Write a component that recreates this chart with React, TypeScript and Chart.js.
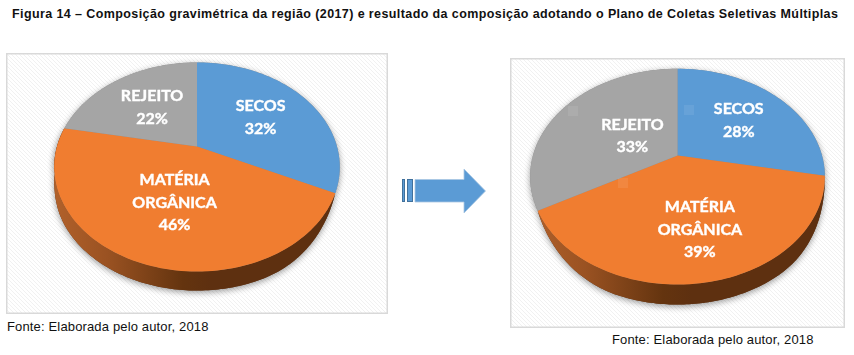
import React, { useEffect, useRef } from "react";
import { Chart, registerables, ArcElement } from "chart.js";

const categories = ["SECOS", "MATÉRIA\nORGÂNICA", "REJEITO"];
const valuesBefore = [32, 46, 22];
const valuesAfter = [28, 39, 33];
const sliceColors = ["#5b9bd5", "#f07d30", "#a5a5a5"];
const labelReachBefore = [0.57, 0.53, 0.545];
const labelReachAfter = [0.57, 0.635, 0.385];
const labelNudgeBefore = [0, 3, 0];
const labelNudgeAfter = [2, 6, 1];
const titleText =
  "Figura 14 – Composição gravimétrica da região (2017) e resultado da composição adotando o Plano de Coletas Seletivas Múltiplas";
const sourceText = "Fonte: Elaborada pelo autor, 2018";

const TILT = 0.718;
const PERSPECTIVE = 0.196;

function project(x: number, y: number, r: number, angle: number, reach = 1) {
  const u = Math.cos(angle) * reach;
  const v = Math.sin(angle) * reach;
  const w = 1 - PERSPECTIVE * v;
  return { x: x + (r * u) / w, y: y + (r * TILT * v) / w };
}

class ProjectedArc extends ArcElement {
  static id = "projectedArc";
  static defaults = { ...ArcElement.defaults };
  draw(ctx: CanvasRenderingContext2D) {
    const { x, y, startAngle, endAngle, outerRadius } = this as any;
    const steps = Math.max(8, Math.ceil((endAngle - startAngle) / 0.03));
    ctx.save();
    ctx.beginPath();
    ctx.moveTo(x, y);
    for (let i = 0; i <= steps; i++) {
      const p = project(x, y, outerRadius, startAngle + ((endAngle - startAngle) * i) / steps);
      ctx.lineTo(p.x, p.y);
    }
    ctx.closePath();
    ctx.fillStyle = (this as any).options.backgroundColor;
    ctx.fill();
    ctx.restore();
  }
}

const hatchPlugin = {
  id: "hatchPanel",
  beforeDraw(chart: any) {
    const { ctx, width, height } = chart;
    const tile = document.createElement("canvas");
    tile.width = 4;
    tile.height = 4;
    const t = tile.getContext("2d")!;
    t.fillStyle = "#ffffff";
    t.fillRect(0, 0, 4, 4);
    t.strokeStyle = "#f1f1f1";
    t.lineWidth = 1;
    for (const o of [-4, 0, 4]) {
      t.beginPath();
      t.moveTo(o, 0);
      t.lineTo(o + 4, 4);
      t.stroke();
    }
    ctx.save();
    ctx.fillStyle = ctx.createPattern(tile, "repeat")!;
    ctx.fillRect(0, 0, width, height);
    ctx.strokeStyle = "#d9d9d9";
    ctx.lineWidth = 1.5;
    ctx.strokeRect(0.75, 0.75, width - 1.5, height - 1.5);
    ctx.restore();
  },
};

const sidePlugin = {
  id: "pieSide",
  beforeDatasetsDraw(chart: any, _args: any, opts: any) {
    const arcs = chart.getDatasetMeta(0).data as any[];
    const { ctx } = chart;
    const front = Math.PI / 2;
    const arc = arcs.find((a) => a.startAngle <= front && a.endAngle >= front);
    if (!arc) return;
    const { x, y, outerRadius: r, startAngle: a0, endAngle: a1 } = arc;
    const outer: { x: number; y: number }[] = [];
    const lower: { x: number; y: number }[] = [];
    const n = 160;
    for (let i = 0; i <= n; i++) {
      const a = a0 + ((a1 - a0) * i) / n;
      const p = project(x, y, r, a);
      const edge = Math.min(a - a0, a1 - a);
      const s = Math.min(1, edge / opts.taper);
      const depth = opts.depth * s * (2 - s);
      outer.push(p);
      lower.push({ x: p.x, y: p.y + depth });
    }
    const sidePath = () => {
      ctx.beginPath();
      outer.forEach((p, i) => (i ? ctx.lineTo(p.x, p.y) : ctx.moveTo(p.x, p.y)));
      for (let i = lower.length - 1; i >= 0; i--) ctx.lineTo(lower[i].x, lower[i].y);
      ctx.closePath();
    };
    const topPath = () => {
      ctx.beginPath();
      for (let i = 0; i <= 240; i++) {
        const p = project(x, y, r, (i / 240) * Math.PI * 2);
        i ? ctx.lineTo(p.x, p.y) : ctx.moveTo(p.x, p.y);
      }
      ctx.closePath();
    };
    ctx.save();
    ctx.shadowColor = "rgba(0,0,0,0.4)";
    ctx.shadowBlur = 6;
    ctx.shadowOffsetX = 0;
    ctx.shadowOffsetY = 2;
    ctx.fillStyle = "#8a8a8a";
    topPath();
    ctx.fill();
    ctx.fillStyle = "#5e3010";
    sidePath();
    ctx.fill();
    ctx.restore();
    const g = ctx.createLinearGradient(x - r, 0, x + r, 0);
    g.addColorStop(0, "#b0602a");
    g.addColorStop(0.18, "#9a5222");
    g.addColorStop(0.45, "#64340f");
    g.addColorStop(0.55, "#5e3010");
    g.addColorStop(1, "#5e3010");
    ctx.fillStyle = g;
    sidePath();
    ctx.fill();
  },
};

const labelPlugin = {
  id: "pieLabels",
  afterDatasetsDraw(chart: any, _args: any, opts: any) {
    const { ctx } = chart;
    const arcs = chart.getDatasetMeta(0).data as any[];
    const values = chart.data.datasets[0].data as number[];
    const lineHeight = 22.5;
    ctx.save();
    ctx.fillStyle = "#ffffff";
    ctx.strokeStyle = "#ffffff";
    ctx.lineWidth = 0.4;
    ctx.font = 'bold 16px Lato, "Open Sans", sans-serif';
    ctx.textAlign = "center";
    ctx.textBaseline = "middle";
    arcs.forEach((arc, i) => {
      const mid = (arc.startAngle + arc.endAngle) / 2;
      const p = project(arc.x, arc.y, arc.outerRadius, mid, opts.reach[i]);
      const lines = [...String(chart.data.labels[i]).split("\n"), `${values[i]}%`];
      lines.forEach((line, k) => {
        const ty = p.y + (k - (lines.length - 1) / 2) * lineHeight;
        ctx.fillText(line, p.x + opts.nudge[i], ty);
        ctx.strokeText(line, p.x + opts.nudge[i], ty);
      });
    });
    ctx.restore();
  },
};

Chart.register(...registerables, ProjectedArc);
(Chart.defaults as any).datasets.pie.dataElementType = "projectedArc";

function Pie(props: {
  values: number[];
  reach: number[];
  nudge: number[];
  left: number;
  top: number;
  width: number;
  height: number;
  radius: number;
  bottomPad: number;
  depth: number;
}) {
  const ref = useRef<HTMLCanvasElement>(null);
  useEffect(() => {
    const chart = new Chart(ref.current!, {
      type: "pie",
      data: {
        labels: categories,
        datasets: [
          {
            data: props.values,
            backgroundColor: sliceColors,
            borderWidth: 0,
            radius: props.radius,
          },
        ],
      },
      options: {
        animation: false,
        responsive: false,
        events: [],
        layout: { padding: { bottom: props.bottomPad } },
        plugins: {
          legend: { display: false },
          tooltip: { enabled: false },
          pieSide: { depth: props.depth, taper: 0.75 },
          pieLabels: { reach: props.reach, nudge: props.nudge },
        } as any,
      },
      plugins: [hatchPlugin, sidePlugin, labelPlugin],
    } as any);
    return () => chart.destroy();
  }, []);
  return (
    <canvas
      ref={ref}
      width={props.width}
      height={props.height}
      style={{ position: "absolute", left: props.left, top: props.top, width: props.width, height: props.height }}
    />
  );
}

const textBase: React.CSSProperties = {
  position: "absolute",
  fontFamily: '"Liberation Sans", Arial, sans-serif',
  whiteSpace: "nowrap",
  color: "#111",
  fontSize: 13,
  lineHeight: "14px",
};

const speck = (left: number, top: number): React.CSSProperties => ({
  position: "absolute",
  left,
  top,
  width: 10,
  height: 10,
  background: "rgba(255,255,255,0.08)",
});

export default function App() {
  return (
    <div style={{ position: "absolute", left: 0, top: 0, width: 854, height: 355, overflow: "hidden", background: "#fff" }}>
      <div style={{ ...textBase, left: 12, top: 7, fontSize: 12.5, fontWeight: 700, letterSpacing: "0.4px" }}>{titleText}</div>
      <Pie values={valuesBefore} reach={labelReachBefore} nudge={labelNudgeBefore} left={6} top={53} width={382} height={261} radius={140} bottomPad={74} depth={19} />
      <Pie values={valuesAfter} reach={labelReachAfter} nudge={labelNudgeAfter} left={510} top={58} width={335} height={270} radius={144.5} bottomPad={75} depth={20} />
      <div style={speck(684, 105)} />
      <div style={speck(568, 106)} />
      <div style={speck(618, 178)} />
      <svg width={90} height={50} style={{ position: "absolute", left: 399, top: 166 }}>
        <g fill="#5b9bd5" stroke="#41719c" strokeWidth={1}>
          <rect x={3.5} y={13.5} width={2} height={22} />
          <rect x={8.5} y={13.5} width={5} height={22} />
        </g>
        <path d="M16 13.5H65V3L86.5 25L65 47V36H16Z" fill="#5b9bd5" stroke="#a9c6e2" strokeWidth={0.8} />
      </svg>
      <div style={{ ...textBase, left: 7, top: 320, letterSpacing: "0.15px" }}>{sourceText}</div>
      <div style={{ ...textBase, left: 612, top: 333, letterSpacing: "0.15px" }}>{sourceText}</div>
    </div>
  );
}
